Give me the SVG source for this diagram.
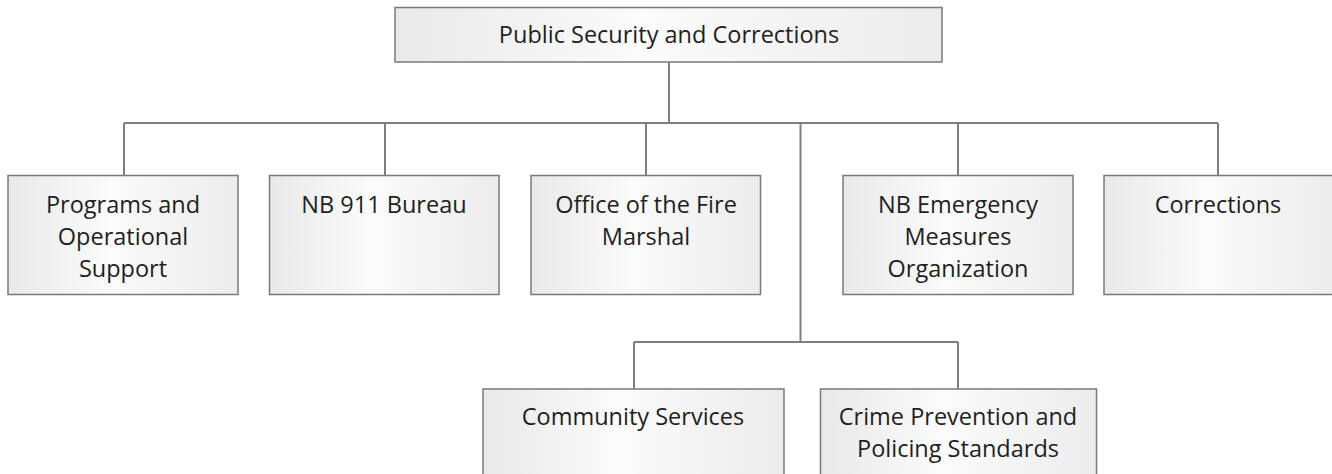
<svg xmlns="http://www.w3.org/2000/svg" width="1332" height="474" viewBox="0 0 1332 474">
<defs>
<linearGradient id="g" x1="0" y1="0" x2="1" y2="0">
<stop offset="0" stop-color="#e9e9e9"/>
<stop offset="0.45" stop-color="#fbfbfb"/>
<stop offset="1" stop-color="#ececec"/>
</linearGradient>
<style>
.box{fill:url(#g);stroke:#7a7a7a;stroke-width:1.5}
.t{font-family:"Open Sans","Liberation Sans",sans-serif;font-size:23.5px;fill:#231f20;text-anchor:middle}
.c{fill:none;stroke:#7f7f7f;stroke-width:2}
</style>
</defs>
<rect width="1332" height="474" fill="#ffffff"/>
<g id="connectors">
<path class="c" d="M669 62V123M124 123H1218M124 123V175.5M385 123V175.5M646 123V175.5M958 123V175.5M1218 123V175.5M800.5 123V342M634 342H958M634 342V389M958 342V389"/>
</g>
<g id="n0"><rect class="box" x="395" y="7.5" width="547" height="54.5"/><text class="t" x="669" y="43">Public Security and Corrections</text></g>
<g id="n1"><rect class="box" x="8" y="175.5" width="230" height="119"/><text class="t" x="123" y="213">Programs and</text><text class="t" x="123" y="245">Operational</text><text class="t" x="123" y="277">Support</text></g>
<g id="n2"><rect class="box" x="269.5" y="175.5" width="229.5" height="119"/><text class="t" x="384" y="213">NB 911 Bureau</text></g>
<g id="n3"><rect class="box" x="531" y="175.5" width="229.5" height="119"/><text class="t" x="646" y="213">Office of the Fire</text><text class="t" x="646" y="245">Marshal</text></g>
<g id="n4"><rect class="box" x="843" y="175.5" width="230" height="119"/><text class="t" x="958" y="213">NB Emergency</text><text class="t" x="958" y="245">Measures</text><text class="t" x="958" y="277">Organization</text></g>
<g id="n5"><rect class="box" x="1104" y="175.5" width="232" height="119"/><text class="t" x="1218" y="213">Corrections</text></g>
<g id="n6"><rect class="box" x="483" y="389" width="301" height="95"/><text class="t" x="633" y="425">Community Services</text></g>
<g id="n7"><rect class="box" x="820.5" y="389" width="276" height="95"/><text class="t" x="958" y="425">Crime Prevention and</text><text class="t" x="958" y="457">Policing Standards</text></g>
</svg>
